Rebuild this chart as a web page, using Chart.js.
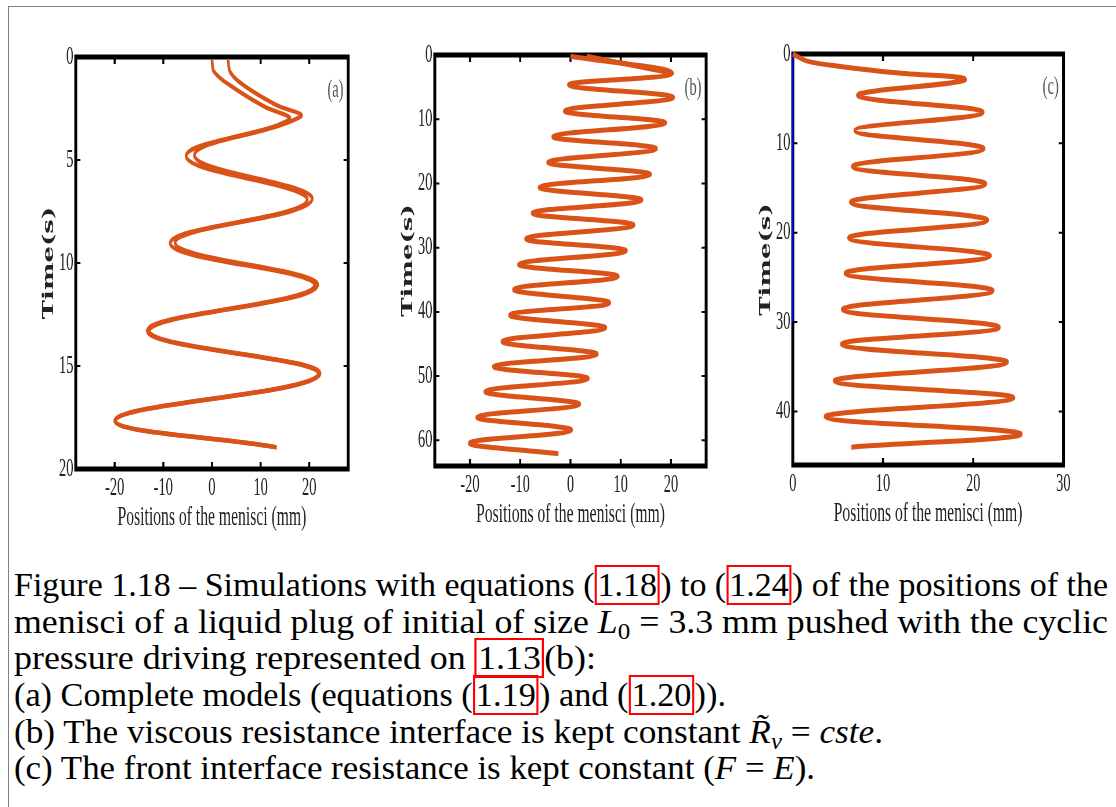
<!DOCTYPE html>
<html>
<head>
<meta charset="utf-8">
<script src="https://cdn.jsdelivr.net/npm/chart.js@4.4.1/dist/chart.umd.min.js"></script>
<style>
  html, body { margin: 0; padding: 0; background: #fff; }
  body { width: 1116px; height: 807px; position: relative; overflow: hidden; }
  #frame { position: absolute; left: 8px; top: 6px; right: -2px; bottom: -2px;
           border-top: 1px solid #808080; border-left: 1px solid #808080; }
  .panel { position: absolute; top: 0; transform-origin: 0 0; }
  .panel canvas { display: block; }
  .cap { position: absolute; left: 14px; white-space: nowrap; transform-origin: 0 0;
         font-family: 'Liberation Serif', serif; font-size: 33px; line-height: 30px; color: #000; }
  .ref { display: inline-block; border: 2px solid #ff0000; padding: 3px 1px; margin: -5px 0; line-height: 30px; }
  .cap sub { font-size: 0.7em; line-height: 0; vertical-align: -0.25em; }
</style>
</head>
<body>
<div id="frame"></div>
<div class="panel" id="pa"><canvas></canvas></div>
<div class="panel" id="pb"><canvas></canvas></div>
<div class="panel" id="pc"><canvas></canvas></div>

<div class="cap" data-base="596" data-w="1094">Figure 1.18 – Simulations with equations (<span class="ref">1.18</span>) to (<span class="ref">1.24</span>) of the positions of the</div>
<div class="cap" data-base="633" data-w="1094">menisci of a liquid plug of initial of size <i>L</i><sub>0</sub> = 3.3 mm pushed with the cyclic</div>
<div class="cap" data-base="669" data-w="582">pressure driving represented on <span class="ref">1.13</span>(b):</div>
<div class="cap" data-base="706" data-w="712">(a) Complete models (equations (<span class="ref">1.19</span>) and (<span class="ref">1.20</span>)).</div>
<div class="cap" data-base="743" data-w="869">(b) The viscous resistance interface is kept constant <i>R&#771;</i><sub><i>v</i></sub> = <i>cste</i>.</div>
<div class="cap" data-base="779" data-w="801">(c) The front interface resistance is kept constant (<i>F</i> = <i>E</i>).</div>

<script>
// panel (a): complete model, rear and front menisci
const aRearPos   = [0.0, 0.4, 4.5, 10.7, 15.8, -5.3, 19.6, -8.6, 21.1, -13.3, 21.9, -19.9, 13.3];
const aRearTime  = [0.1, 0.7, 1.5, 2.4, 3.05, 4.85, 6.95, 9.05, 11.1, 13.3, 15.4, 17.6, 18.95];
const aFrontPos  = [3.3, 3.8, 7.3, 13.4, 18.2, -3.6, 20.6, -7.6, 21.7, -12.9, 22.2, -19.8, 13.3];
const aFrontTime = [0.1, 0.75, 1.5, 2.35, 2.9, 4.8, 6.92, 9.02, 11.1, 13.3, 15.4, 17.6, 18.95];
const aXTicks = [-20, -10, 0, 10, 20];
const aYTicks = [0, 5, 10, 15, 20];

// panel (b): constant viscous resistance
const bRearPos  = [0.0, 20.3, -0.4, 20.5, -1.2, 18.9, -3.5, 17.1, -4.5, 15.9, -6.2, 14.2, -7.6, 12.6, -8.9, 11.1,
                   -10.3, 9.5, -11.3, 7.8, -12.1, 7.0, -13.6, 5.3, -15.3, 3.5, -17.0, 1.8, -18.6, 0.2, -20.1, -2.4];
const bRearTime = [0.2, 2.85, 4.66, 6.62, 8.7, 10.6, 12.7, 14.6, 16.7, 18.6, 20.6, 22.6, 24.6, 26.5, 28.6, 30.5,
                   32.6, 34.5, 36.5, 38.6, 40.5, 42.5, 44.6, 46.6, 48.5, 50.4, 52.4, 54.4, 56.4, 58.4, 60.4, 62.1];
const bFrontPos  = [3.2, 20.3];
const bFrontTime = [0.2, 2.85];
const bXTicks = [-20, -10, 0, 10, 20];
const bYTicks = [0, 10, 20, 30, 40, 50, 60];

// panel (c): constant front interface resistance
const cPos  = [0.0, 1.6, 5.3, 10.8, 19.1, 7.2, 21.1, 6.9, 21.2, 6.6, 21.4, 6.4, 21.6, 6.2, 21.9, 5.8, 22.2, 5.5,
               22.9, 5.4, 23.8, 4.6, 24.5, 3.6, 25.3, 6.5];
const cTime = [0.0, 0.8, 1.4, 2.05, 2.9, 4.66, 6.53, 8.58, 10.6, 12.6, 14.55, 16.6, 18.6, 20.6, 22.6, 24.55, 26.5, 28.6,
               30.6, 32.5, 34.5, 36.6, 38.5, 40.6, 42.5, 44.0];
const cBluePos  = [0, 0];
const cBlueTime = [0, 30];
const cXTicks = [0, 10, 20, 30];
const cYTicks = [0, 10, 20, 30, 40];

const ORANGE = '#d95319';
const SQUEEZE = 0.58;      // the figure is squashed horizontally
const TICK_FONT = { family: "'Liberation Serif', serif", size: 25 };

const pts = (xs, ts) => xs.map((v, i) => ({ x: v, y: ts[i] }));
const curve = (xs, ts, color, w) => ({
    data: pts(xs, ts), showLine: true, borderColor: color, borderWidth: w,
    pointRadius: 0, tension: 0.4, clip: false, fill: false
});

const framePlugin = {
    id: 'panelFrame',
    beforeDatasetsDraw(chart) {
        const { ctx, chartArea: a, scales: { x, y } } = chart;
        ctx.save();
        ctx.strokeStyle = '#000';
        ctx.lineWidth = 3.5;
        x.ticks.forEach(t => {
            const px = x.getPixelForValue(t.value);
            ctx.beginPath();
            ctx.moveTo(px, a.top); ctx.lineTo(px, a.top + 7);
            ctx.moveTo(px, a.bottom); ctx.lineTo(px, a.bottom - 7);
            ctx.stroke();
        });
        ctx.lineWidth = 2;
        y.ticks.forEach(t => {
            const py = y.getPixelForValue(t.value);
            ctx.beginPath();
            ctx.moveTo(a.left, py); ctx.lineTo(a.left + 8, py);
            ctx.moveTo(a.right, py); ctx.lineTo(a.right - 8, py);
            ctx.stroke();
        });
        ctx.lineWidth = 5;
        ctx.strokeRect(a.left, a.top, a.right - a.left, a.bottom - a.top);
        ctx.restore();
    },
    afterDraw(chart, args, opts) {
        const { ctx, chartArea: a } = chart;
        ctx.save();
        ctx.fillStyle = '#555';
        ctx.font = "25px 'Liberation Serif', serif";
        ctx.textAlign = 'right';
        ctx.textBaseline = 'middle';
        ctx.fillText(opts.tag, a.right - 8, a.top + 33);
        ctx.restore();
    }
};

// box = final (on-screen) edges of the plot frame
function makePanel(id, box, xr, yr, xTicks, yTicks, datasets, tag) {
    const yAxisW = 72, canvasH = 545;
    const plotW = (box.right - box.left) / SQUEEZE;
    const canvasW = Math.ceil(yAxisW + plotW + 20);
    const wrap = document.getElementById(id);
    wrap.style.left = (box.left - yAxisW * SQUEEZE) + 'px';
    wrap.style.transform = 'scaleX(' + SQUEEZE + ')';
    const cv = wrap.querySelector('canvas');
    cv.width = canvasW; cv.height = canvasH;

    return new Chart(cv, {
        type: 'scatter',
        data: { datasets },
        options: {
            responsive: false, animation: false, devicePixelRatio: 1,
            layout: { padding: { top: box.top, left: 0, right: canvasW - yAxisW - plotW, bottom: 0 } },
            plugins: { legend: { display: false }, tooltip: { enabled: false }, panelFrame: { tag } },
            scales: {
                x: {
                    type: 'linear', min: xr[0], max: xr[1],
                    grid: { display: false, drawTicks: false }, border: { display: false },
                    afterBuildTicks: s => { s.ticks = xTicks.map(v => ({ value: v })); },
                    afterFit: s => { s.height = canvasH - box.bottom; },
                    ticks: { font: TICK_FONT, color: '#222', padding: 4, maxRotation: 0, autoSkip: false },
                    title: { display: true, text: 'Positions of the menisci (mm)', color: '#222',
                             font: { family: "'Liberation Serif', serif", size: 27 },
                             padding: { top: 0, bottom: canvasH - box.titleY - 16.2 } }
                },
                y: {
                    type: 'linear', reverse: true, min: yr[0], max: yr[1],
                    grid: { display: false, drawTicks: false }, border: { display: false },
                    afterBuildTicks: s => { s.ticks = yTicks.map(v => ({ value: v })); },
                    afterFit: s => { s.width = yAxisW; },
                    ticks: { font: TICK_FONT, color: '#222', padding: 4, autoSkip: false },
                    title: { display: true, text: 'Time(s)', color: '#222',
                             font: { family: "'DejaVu Serif', serif", size: 26, weight: 'bold' },
                             padding: { top: 11.1, bottom: 0 } }
                }
            }
        },
        plugins: [framePlugin]
    });
}

makePanel('pa', { left: 75.3, right: 347.7, top: 57, bottom: 469, titleY: 518 }, [-28, 28], [0, 20],
    aXTicks, aYTicks, [
        curve(aRearPos, aRearTime, ORANGE, 4.5),
        curve(aFrontPos, aFrontTime, ORANGE, 4.5)
    ], '(a)');

makePanel('pb', { left: 434.3, right: 705.7, top: 55, bottom: 466, titleY: 515 }, [-27, 27], [0, 64],
    bXTicks, bYTicks, [
        curve(bRearPos, bRearTime, ORANGE, 5),
        curve(bFrontPos, bFrontTime, ORANGE, 5)
    ], '(b)');

makePanel('pc', { left: 792.7, right: 1063.3, top: 54, bottom: 465, titleY: 514 }, [0, 30], [0, 46],
    cXTicks, cYTicks, [
        curve(cPos, cTime, ORANGE, 5),
        curve(cBluePos, cBlueTime, '#0000ee', 3)
    ], '(c)');

// caption lines: place by baseline, stretch to the measured line width
document.querySelectorAll('.cap').forEach(el => {
    el.style.top = (+el.dataset.base - 26) + 'px';
    const w = el.getBoundingClientRect().width;
    el.style.transform = 'scaleX(' + (+el.dataset.w / w) + ')';
});
</script>
</body>
</html>
